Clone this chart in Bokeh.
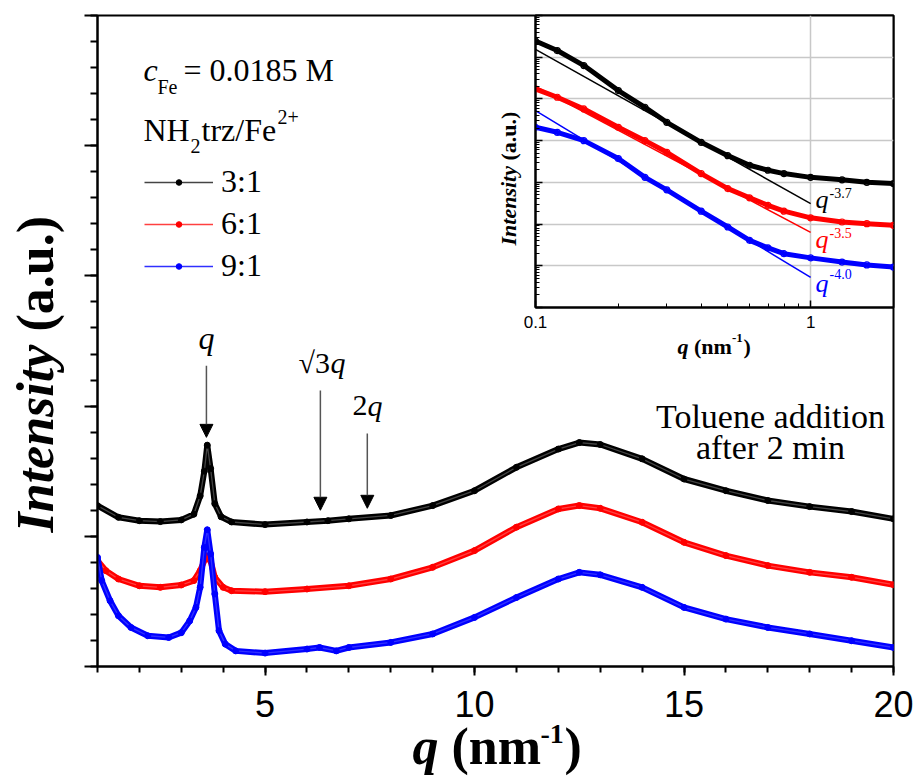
import math
from bokeh.plotting import figure
from bokeh.models import (Label, Arrow, NormalHead, SingleIntervalTicker, FixedTicker,
                          Legend, LegendItem, Range1d, CustomJSTickFormatter)
from bokeh.layouts import column
from bokeh.embed import file_html
from bokeh.resources import INLINE

# ---------------- main panel data (q in nm^-1, intensity offset arbitrary units) ----------
q_31 = [1.0, 1.5, 2.0, 2.5, 3.0, 3.3, 3.45, 3.55, 3.62, 3.7, 3.8, 3.95, 4.2, 5.0, 6.0, 6.5,
        7.0, 8.0, 9.0, 10.0, 11.0, 12.0, 12.5, 13.0, 14.0, 15.0, 16.0, 17.0, 18.0, 19.0, 20.0]
i_31 = [1.235, 1.146, 1.12, 1.113, 1.126, 1.17, 1.31, 1.50, 1.70, 1.52, 1.25, 1.15, 1.11, 1.09,
        1.11, 1.12, 1.134, 1.16, 1.236, 1.35, 1.53, 1.67, 1.72, 1.705, 1.595, 1.44, 1.35, 1.275,
        1.228, 1.19, 1.134]

q_61 = [1.0, 1.2, 1.5, 2.0, 2.5, 3.0, 3.3, 3.45, 3.6, 3.7, 3.8, 4.0, 4.2, 5.0, 6.0, 7.0, 8.0,
        9.0, 10.0, 11.0, 12.0, 12.5, 13.0, 14.0, 15.0, 16.0, 17.0, 18.0, 19.0, 20.0]
i_61 = [0.813, 0.736, 0.672, 0.62, 0.608, 0.626, 0.66, 0.736, 0.85, 0.81, 0.685, 0.608, 0.582,
        0.575, 0.595, 0.62, 0.672, 0.762, 0.89, 1.07, 1.21, 1.236, 1.215, 1.108, 0.954, 0.852,
        0.775, 0.723, 0.685, 0.628]

q_91 = [1.0, 1.1, 1.3, 1.5, 1.8, 2.2, 2.7, 3.0, 3.2, 3.35, 3.45, 3.55, 3.62, 3.7, 3.8, 3.9,
        4.05, 4.3, 5.0, 6.0, 6.3, 6.7, 7.0, 8.0, 9.0, 10.0, 11.0, 12.0, 12.5, 13.0, 14.0, 15.0,
        16.0, 17.0, 18.0, 19.0, 20.0]
i_91 = [0.838, 0.66, 0.505, 0.39, 0.30, 0.236, 0.223, 0.26, 0.35, 0.454, 0.608, 0.915, 1.05,
        0.865, 0.557, 0.275, 0.172, 0.12, 0.103, 0.134, 0.146, 0.12, 0.146, 0.185, 0.25, 0.377,
        0.53, 0.672, 0.723, 0.704, 0.608, 0.454, 0.364, 0.30, 0.25, 0.198, 0.146]

series_labels = ["3:1", "6:1", "9:1"]
series_colors = ["#000000", "#ff0000", "#0000ff"]
series_line_colors = ["#444444", "#ff4040", "#3030ff"]

# Bragg reflection markers
arrow_q = [3.60, 6.32, 7.44]
arrow_top = [2.31, 2.12, 1.79]
arrow_tip = [1.76, 1.20, 1.215]

# ---------------- inset data (log-log) ----------------
iq = [0.1, 0.12, 0.15, 0.2, 0.25, 0.3, 0.4, 0.5, 0.6, 0.7, 0.8, 1.0, 1.3, 1.6, 2.0]
ii_31 = [6.39, 6.16, 5.80, 5.20, 4.80, 4.44, 3.96, 3.64, 3.41, 3.29, 3.21, 3.12, 3.06, 3.00, 2.97]
ii_61 = [5.24, 5.04, 4.76, 4.32, 4.00, 3.72, 3.21, 2.85, 2.63, 2.45, 2.31, 2.15, 2.05, 2.01, 1.97]
ii_91 = [4.32, 4.20, 4.00, 3.57, 3.12, 2.82, 2.31, 1.93, 1.61, 1.43, 1.29, 1.19, 1.09, 1.02, 0.97]
# power-law fits I = A q^-n drawn from q=0.1 to q=1
fit_q = [0.1, 1.0]
fit_exponents = [3.7, 3.5, 4.0]
fit_log_amp_at_01 = [6.19, 5.30, 4.72]
fit_labels = ["-3.7", "-3.5", "-4.0"]

SERIF = "Liberation Serif"
SANS = "Liberation Sans"
W, H = 916, 780
K = 0.3375  # shift from rendered anchor to the alphabetic baseline (fraction of font size)

# ---------------- main figure ----------------
p = figure(width=W, height=H, x_range=Range1d(1, 20), y_range=Range1d(0, 5),
           output_backend="svg", toolbar_location=None, frame_align=False,
           min_border_left=97, min_border_right=23, min_border_top=15, min_border_bottom=114)
p.grid.visible = False
p.outline_line_color = "black"
p.outline_line_width = 2
p.background_fill_color = "white"
p.border_fill_color = "white"

p.xaxis.ticker = SingleIntervalTicker(interval=5, num_minor_ticks=5)
p.yaxis.ticker = SingleIntervalTicker(interval=1, num_minor_ticks=5)
for ax in (p.xaxis, p.yaxis):
    ax.axis_line_width = 2
    ax.axis_line_color = "black"
    ax.major_tick_line_width = 2
    ax.minor_tick_line_width = 2
    ax.major_tick_in = 0
    ax.minor_tick_in = 0
p.xaxis.major_tick_out = 9
p.xaxis.minor_tick_out = 6
p.yaxis.major_tick_out = 13
p.yaxis.minor_tick_out = 7
p.xaxis.major_label_text_font = SANS
p.xaxis.major_label_text_font_size = "36px"
p.xaxis.major_label_text_color = "black"
p.xaxis.major_label_standoff = 15
p.yaxis.formatter = CustomJSTickFormatter(code="return '';")

items = []
for lab_, qq, ii, c, lc in zip(series_labels, [q_31, q_61, q_91], [i_31, i_61, i_91],
                               series_colors, series_line_colors):
    p.line(qq, ii, line_color=c, line_width=6, line_join="round", line_cap="round")
    r_line = p.line(qq, ii, line_color=lc, line_width=1.3)
    r_pts = p.scatter(qq, ii, marker="circle", size=6, fill_color=c, line_color=c)
    items.append(LegendItem(label=lab_, renderers=[r_line, r_pts]))

legend = Legend(items=items, location=(47, 382), orientation="vertical",
                label_text_font=SERIF, label_text_font_size="32px", label_text_color="black",
                glyph_width=69, glyph_height=14, label_height=37, spacing=5,
                label_standoff=8, padding=0, margin=0,
                border_line_color=None, background_fill_alpha=0)
p.add_layout(legend)

for xq, yt, yb in zip(arrow_q, arrow_top, arrow_tip):
    p.add_layout(Arrow(x_start=xq, y_start=yt, x_end=xq, y_end=yb, line_color="#555555",
                       line_width=1.5,
                       end=NormalHead(size=13, fill_color="black", line_color="black")))


def main_xy(px, py):
    return 1 + (px - 97) / 41.895, (666 - py) / 130.2


def inset_xy(px, py):
    return 0.1 * 10 ** ((px - 535) / 275.2), 10 ** ((307 - py) / 41.714)


def page_xy(px, py):
    return px, py


def lab(fig, conv, px, py, text, size, style="normal", color="black", align="left",
        rotated=False, font=SERIF):
    # px, py: wanted baseline position in page pixels
    if rotated:
        px = px - K * size
    else:
        py = py - K * size
    x, y = conv(px, py)
    fig.add_layout(Label(x=x, y=y, text=text, text_font=font, text_font_size=f"{size}px",
                         text_font_style=style, text_color=color, text_align=align,
                         text_baseline="alphabetic",
                         angle=math.pi / 2 if rotated else 0.0))


# legend header
lab(p, main_xy, 143, 80, "c", 32, "italic")
lab(p, main_xy, 157, 93, "Fe", 20)
lab(p, main_xy, 183, 80, "= 0.0185 M", 32)
lab(p, main_xy, 143, 140, "NH", 32)
lab(p, main_xy, 190, 152, "2", 20)
lab(p, main_xy, 201, 140, "trz/Fe", 32)
lab(p, main_xy, 277, 123, "2+", 20)

# peak annotations
lab(p, main_xy, 206, 348, "q", 32, "italic", align="center")
lab(p, main_xy, 298, 372, "\u221a3", 30)
lab(p, main_xy, 330, 372, "q", 30, "italic")
lab(p, main_xy, 352, 415, "2", 30)
lab(p, main_xy, 367, 415, "q", 30, "italic")

lab(p, main_xy, 770, 427, "Toluene addition", 34, align="center")
lab(p, main_xy, 770, 458, "after 2 min", 34, align="center")

# ---------------- inset figure ----------------
ins = figure(width=410, height=359, x_axis_type="log", y_axis_type="log",
             x_range=Range1d(0.1, 2), y_range=Range1d(1, 1e7),
             output_backend="svg", toolbar_location=None, frame_align=False,
             min_border_left=45, min_border_right=7, min_border_top=7, min_border_bottom=60)
ins.outline_line_color = "black"
ins.outline_line_width = 2
ins.background_fill_color = "white"
ins.border_fill_alpha = 0
ins.xaxis.ticker = FixedTicker(ticks=[0.1, 1.0],
                               minor_ticks=[0.2, 0.3, 0.4, 0.5, 0.6, 0.7, 0.8, 0.9, 2.0])
ins.yaxis.ticker = FixedTicker(ticks=[10.0 ** k for k in range(0, 8)],
                               minor_ticks=[m * 10.0 ** k for k in range(0, 7) for m in range(2, 10)])
ins.xaxis.formatter = CustomJSTickFormatter(code="return String(Number(tick.toPrecision(3)));")
ins.yaxis.formatter = CustomJSTickFormatter(code="return '';")
for ax in (ins.xaxis, ins.yaxis):
    ax.axis_line_width = 2
    ax.axis_line_color = "black"
    ax.major_tick_out = 0
    ax.minor_tick_out = 0
    ax.major_tick_in = 7
    ax.minor_tick_in = 4
    ax.major_tick_line_width = 1.5
    ax.minor_tick_line_width = 1
ins.xaxis.major_label_text_font = SANS
ins.xaxis.major_label_text_font_size = "17px"
ins.xaxis.major_label_text_color = "black"
ins.xaxis.major_label_standoff = 8
ins.xgrid.grid_line_color = "#c8c8c8"
ins.ygrid.grid_line_color = "#c8c8c8"
ins.xgrid.grid_line_width = 1.5
ins.ygrid.grid_line_width = 1.5

for ii, c, n, a0, flab in zip([ii_31, ii_61, ii_91], series_colors, fit_exponents,
                              fit_log_amp_at_01, fit_labels):
    vals = [10.0 ** v for v in ii]
    ins.line(iq, vals, line_color=c, line_width=5, line_join="round")
    ins.scatter(iq, vals, marker="circle", size=6, fill_alpha=0, line_color=c, line_width=1.2)
    fit_vals = [10.0 ** a0 * (qq / 0.1) ** (-n) for qq in fit_q]
    ins.line(fit_q, fit_vals, line_color=c, line_width=1.5)

for c, fl, qb, sb in zip(series_colors, fit_labels, [208, 248, 292], [197, 237, 278]):
    lab(ins, inset_xy, 815, qb, "q", 26, "italic", color=c)
    lab(ins, inset_xy, 829, sb, fl, 14, color=c)

# ---------------- transparent text layer (axis titles live outside the frames) ----------
txt = figure(width=W, height=H, x_range=Range1d(0, W), y_range=Range1d(H, 0),
             x_axis_location=None, y_axis_location=None, output_backend="svg",
             toolbar_location=None, min_border=0, frame_align=False)
txt.grid.visible = False
txt.outline_line_color = None
txt.background_fill_alpha = 0
txt.border_fill_alpha = 0

# main axis titles
lab(txt, page_xy, 53, 532, "Intensity", 52, "bold italic", rotated=True)
lab(txt, page_xy, 53, 331, "(a.u.)", 52, "bold", rotated=True)
lab(txt, page_xy, 412, 764, "q", 52, "bold italic")
lab(txt, page_xy, 451, 764, "(nm", 52, "bold")
lab(txt, page_xy, 540, 743, "-1", 28, "bold")
lab(txt, page_xy, 564, 764, ")", 52, "bold")
# inset axis titles
lab(txt, page_xy, 515, 245, "Intensity", 22, "bold italic", rotated=True)
lab(txt, page_xy, 515, 160, "(a.u.)", 22, "bold", rotated=True)
lab(txt, page_xy, 677, 353, "q", 22, "bold italic")
lab(txt, page_xy, 693.5, 353, "(nm", 22, "bold")
lab(txt, page_xy, 731.5, 342, "-1", 13, "bold")
lab(txt, page_xy, 743, 353, ")", 22, "bold")

ins.margin = (-(H - 8), 0, 0, 490)
txt.margin = (-367, 0, 0, 0)

layout = column(p, ins, txt, spacing=0)

open("out.html", "w").write(file_html(layout, INLINE))
